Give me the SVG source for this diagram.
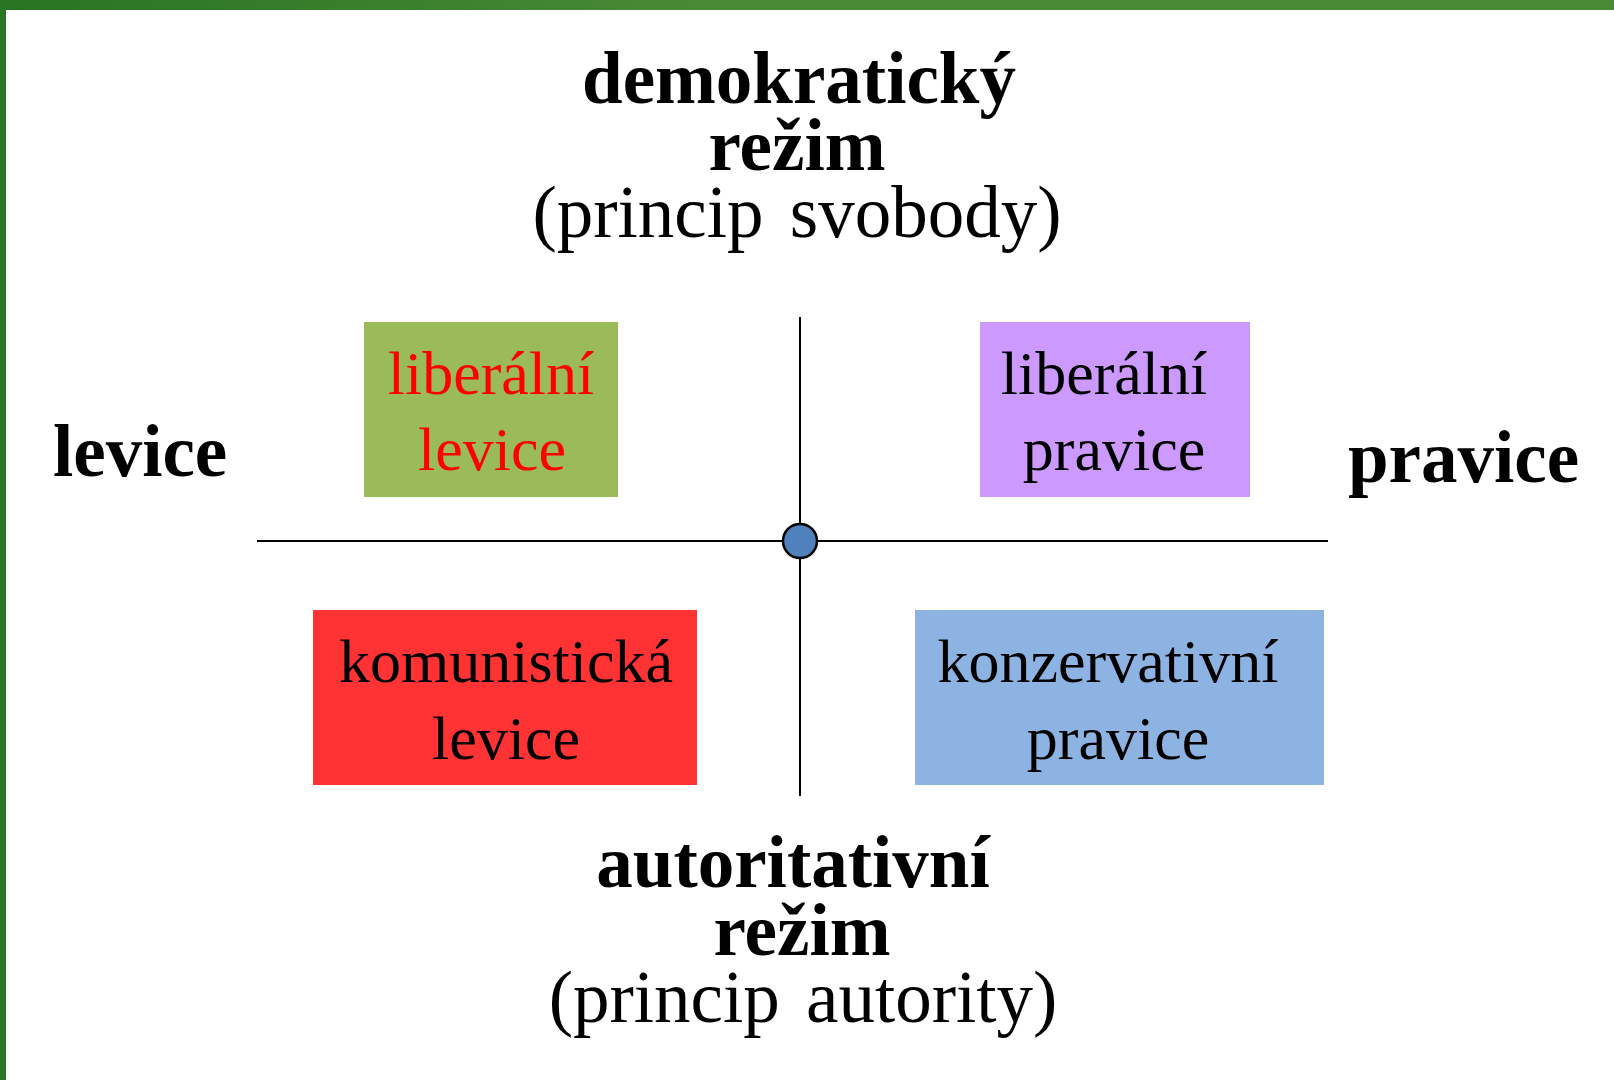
<svg xmlns="http://www.w3.org/2000/svg" width="1614" height="1080" viewBox="0 0 1614 1080">
  <defs>
    <linearGradient id="topbar" x1="0" y1="0" x2="1" y2="0">
      <stop offset="0" stop-color="#287423"/>
      <stop offset="0.45" stop-color="#4a8a36"/>
      <stop offset="1" stop-color="#4a8a36"/>
    </linearGradient>
    <style>
      .bold { font-family: "Liberation Serif", "Times New Roman", serif; font-weight: bold; font-size: 73px; fill: #000; }
      .reg { font-family: "Liberation Serif", "Times New Roman", serif; font-size: 73px; fill: #000; word-spacing: 8px; }
      .box { font-family: "Liberation Serif", "Times New Roman", serif; font-size: 62px; fill: #000; }
      .red { fill: #ff0000; }
      .axis { stroke: #000; stroke-width: 2; fill: none; }
    </style>
  </defs>
  <rect x="0" y="0" width="1614" height="1080" fill="#fff"/>
  <rect x="0" y="0" width="1614" height="10" fill="url(#topbar)"/>
  <rect x="0" y="0" width="6" height="1080" fill="#297523"/>

  <g id="connectors">
    <line class="axis" x1="257" y1="541" x2="1328" y2="541"/>
    <line class="axis" x1="800" y1="317" x2="800" y2="796"/>
  </g>

  <g id="center">
    <circle cx="800" cy="541" r="17" fill="#4f81bd" stroke="#000" stroke-width="2.5"/>
  </g>

  <g id="top-label" text-anchor="middle">
    <text class="bold" x="799" y="103">demokratický</text>
    <text class="bold" x="797" y="170">režim</text>
    <text class="reg" x="797" y="237">(princip svobody)</text>
  </g>

  <g id="bottom-label" text-anchor="middle">
    <text class="bold" x="793" y="887">autoritativní</text>
    <text class="bold" x="802" y="955">režim</text>
    <text class="reg" x="803" y="1022">(princip autority)</text>
  </g>

  <g id="left-label">
    <text class="bold" x="53" y="476">levice</text>
  </g>

  <g id="right-label">
    <text class="bold" x="1348" y="482">pravice</text>
  </g>

  <g id="liberal-left">
    <rect x="364" y="322" width="254" height="175" fill="#9bbb59"/>
    <text class="box red" x="491" y="394" text-anchor="middle">liberální</text>
    <text class="box red" x="492" y="470" text-anchor="middle">levice</text>
  </g>

  <g id="liberal-right">
    <rect x="980" y="322" width="270" height="175" fill="#cc99ff"/>
    <text class="box" x="1104" y="394" text-anchor="middle">liberální</text>
    <text class="box" x="1114" y="470" text-anchor="middle">pravice</text>
  </g>

  <g id="communist-left">
    <rect x="313" y="610" width="384" height="175" fill="#ff3333"/>
    <text class="box" x="506" y="682" text-anchor="middle">komunistická</text>
    <text class="box" x="506" y="759" text-anchor="middle">levice</text>
  </g>

  <g id="conservative-right">
    <rect x="915" y="610" width="409" height="175" fill="#8db3e2"/>
    <text class="box" x="1108" y="682" text-anchor="middle">konzervativní</text>
    <text class="box" x="1118" y="759" text-anchor="middle">pravice</text>
  </g>
</svg>
